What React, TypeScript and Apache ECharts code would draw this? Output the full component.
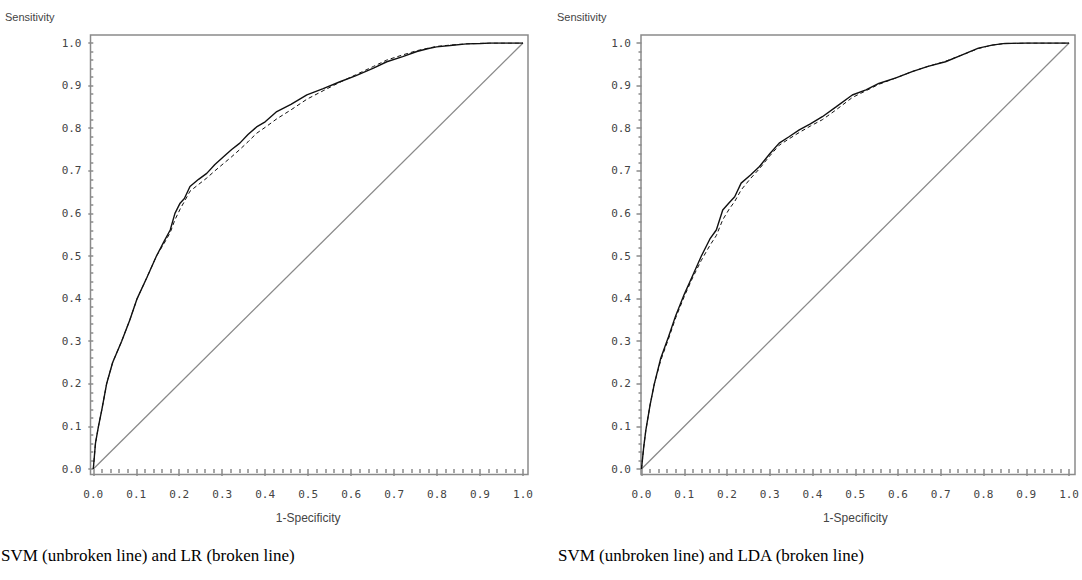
import React, { useEffect, useRef } from "react";
import * as echarts from "echarts";

// ---- data ----
const TICK_LABELS = ["0.0", "0.1", "0.2", "0.3", "0.4", "0.5", "0.6", "0.7", "0.8", "0.9", "1.0"];

const FPR_L = [0, 0.005, 0.012, 0.02, 0.031, 0.045, 0.066, 0.085, 0.102, 0.125, 0.147, 0.165, 0.179, 0.19, 0.202, 0.212, 0.225, 0.245, 0.264, 0.283, 0.303, 0.322, 0.341, 0.36, 0.38, 0.4, 0.427, 0.46, 0.497, 0.535, 0.574, 0.61, 0.652, 0.683, 0.72, 0.753, 0.78, 0.799, 0.83, 0.869, 0.9, 0.923, 0.96, 1.0];
const SVM_L = [0, 0.06, 0.1, 0.14, 0.2, 0.25, 0.3, 0.35, 0.4, 0.45, 0.5, 0.535, 0.561, 0.6, 0.624, 0.635, 0.663, 0.68, 0.694, 0.715, 0.733, 0.75, 0.765, 0.785, 0.803, 0.815, 0.839, 0.856, 0.878, 0.893, 0.909, 0.923, 0.941, 0.956, 0.968, 0.98, 0.987, 0.991, 0.994, 0.998, 0.999, 1.0, 1.0, 1.0];
const LR_L = [0, 0.06, 0.1, 0.14, 0.2, 0.25, 0.3, 0.35, 0.4, 0.45, 0.5, 0.53, 0.555, 0.585, 0.61, 0.628, 0.652, 0.668, 0.683, 0.7, 0.717, 0.733, 0.75, 0.768, 0.788, 0.802, 0.822, 0.843, 0.868, 0.888, 0.908, 0.925, 0.945, 0.96, 0.972, 0.982, 0.988, 0.992, 0.995, 0.998, 0.999, 1.0, 1.0, 1.0];

const FPR_R = [0, 0.005, 0.01, 0.02, 0.03, 0.045, 0.063, 0.08, 0.1, 0.12, 0.14, 0.16, 0.175, 0.19, 0.205, 0.218, 0.233, 0.255, 0.276, 0.3, 0.322, 0.345, 0.369, 0.395, 0.423, 0.455, 0.493, 0.525, 0.555, 0.595, 0.633, 0.67, 0.711, 0.75, 0.788, 0.82, 0.85, 0.9, 0.95, 1.0];
const SVM_R = [0, 0.05, 0.09, 0.15, 0.2, 0.26, 0.31, 0.36, 0.41, 0.455, 0.5, 0.54, 0.561, 0.608, 0.625, 0.639, 0.671, 0.69, 0.71, 0.74, 0.765, 0.78, 0.796, 0.81, 0.827, 0.85, 0.878, 0.89, 0.905, 0.918, 0.933, 0.945, 0.956, 0.972, 0.988, 0.995, 0.999, 1.0, 1.0, 1.0];
const LDA_R = [0, 0.05, 0.09, 0.15, 0.2, 0.255, 0.305, 0.355, 0.405, 0.45, 0.49, 0.525, 0.548, 0.585, 0.61, 0.628, 0.655, 0.682, 0.705, 0.735, 0.76, 0.775, 0.79, 0.805, 0.82, 0.843, 0.872, 0.888, 0.903, 0.918, 0.933, 0.945, 0.957, 0.972, 0.987, 0.995, 0.999, 1.0, 1.0, 1.0];

const DIAG = [0, 1];

const CAPTION_L = "SVM (unbroken line) and LR (broken line)";
const CAPTION_R = "SVM (unbroken line) and LDA (broken line)";
const X_NAME = "1-Specificity";
const Y_NAME = "Sensitivity";

const FRAME = "#8a8a8a";
const TICK_FONT = "DejaVu Sans Mono";

const pairs = (xs: number[], ys: number[]) => xs.map((x, i) => [x, ys[i]]);

function outerAxes(gridIndex: number) {
  return {
    x: { gridIndex, type: "value", min: 0, max: 1, show: false },
    y: { gridIndex, type: "value", min: 0, max: 1, show: false },
  };
}

function innerAxes(gridIndex: number, xOffset: number, yOffset: number, yLabelMargin: number) {
  const fmt = (v: number) => TICK_LABELS[Math.round(v * 10)];
  return {
    x: {
      gridIndex,
      type: "value",
      min: 0,
      max: 1,
      interval: 0.1,
      offset: xOffset,
      axisLine: { show: false },
      axisTick: { show: true, length: 7, lineStyle: { color: FRAME, width: 1.5 } },
      minorTick: { show: true, splitNumber: 5, length: 4, lineStyle: { color: FRAME, width: 1.5 } },
      splitLine: { show: false },
      axisLabel: { formatter: fmt, fontFamily: TICK_FONT, fontSize: 11, color: "#444", margin: 14 },
      name: X_NAME,
      nameLocation: "middle",
      nameGap: 37,
      nameTextStyle: { fontFamily: "Liberation Sans", fontSize: 12, color: "#444" },
    },
    y: {
      gridIndex,
      type: "value",
      min: 0,
      max: 1,
      interval: 0.1,
      offset: yOffset,
      axisLine: { show: false },
      axisTick: { show: true, length: 5, lineStyle: { color: FRAME, width: 1.5 } },
      minorTick: { show: true, splitNumber: 5, length: 3, lineStyle: { color: FRAME, width: 1.5 } },
      splitLine: { show: false },
      axisLabel: { formatter: fmt, fontFamily: TICK_FONT, fontSize: 11, color: "#444", margin: yLabelMargin },
    },
  };
}

function curve(xi: number, data: number[][], dashed: boolean) {
  return {
    type: "line",
    xAxisIndex: xi,
    yAxisIndex: xi,
    data,
    symbol: "none",
    silent: true,
    lineStyle: dashed
      ? { color: "#111", width: 1, type: [4, 3] }
      : { color: "#111", width: 1.4 },
  };
}

function diag(xi: number) {
  return {
    type: "line",
    xAxisIndex: xi,
    yAxisIndex: xi,
    data: pairs(DIAG, DIAG),
    symbol: "none",
    silent: true,
    lineStyle: { color: "#8a8a8a", width: 1.3 },
  };
}

export default function App() {
  const ref = useRef<HTMLDivElement>(null);
  useEffect(() => {
    if (!ref.current) return;
    const chart = echarts.init(ref.current, null, { renderer: "svg" });
    const oL = outerAxes(0);
    const iL = innerAxes(1, 5.5, 2.8, 9);
    const oR = outerAxes(2);
    const iR = innerAxes(3, 5.5, 0.5, 10);
    chart.setOption({
      animation: false,
      backgroundColor: "#ffffff",
      grid: [
        { left: 90.5, top: 35, width: 437.5, height: 439.5, show: true, borderColor: FRAME, borderWidth: 1.5, backgroundColor: "transparent" },
        { left: 93.3, top: 43, width: 429.7, height: 426 },
        { left: 641, top: 35, width: 434, height: 439.5, show: true, borderColor: FRAME, borderWidth: 1.5, backgroundColor: "transparent" },
        { left: 641.5, top: 43, width: 429.5, height: 426 },
      ],
      xAxis: [oL.x, iL.x, oR.x, iR.x],
      yAxis: [oL.y, iL.y, oR.y, iR.y],
      series: [
        diag(1),
        curve(1, pairs(FPR_L, LR_L), true),
        curve(1, pairs(FPR_L, SVM_L), false),
        diag(3),
        curve(3, pairs(FPR_R, LDA_R), true),
        curve(3, pairs(FPR_R, SVM_R), false),
      ],
      graphic: [
        { type: "text", left: 5, top: 11, style: { text: Y_NAME, font: "11px 'Liberation Sans'", fill: "#444" } },
        { type: "text", left: 557, top: 11, style: { text: Y_NAME, font: "11px 'Liberation Sans'", fill: "#444" } },
        { type: "text", left: 1, top: 547, style: { text: CAPTION_L, font: "17px 'Liberation Serif'", fill: "#000" } },
        { type: "text", left: 558, top: 547, style: { text: CAPTION_R, font: "17px 'Liberation Serif'", fill: "#000" } },
      ],
    });
    return () => chart.dispose();
  }, []);
  return (
    <div
      ref={ref}
      style={{ position: "fixed", left: 0, top: 0, width: 1082, height: 580, background: "#fff" }}
    />
  );
}
